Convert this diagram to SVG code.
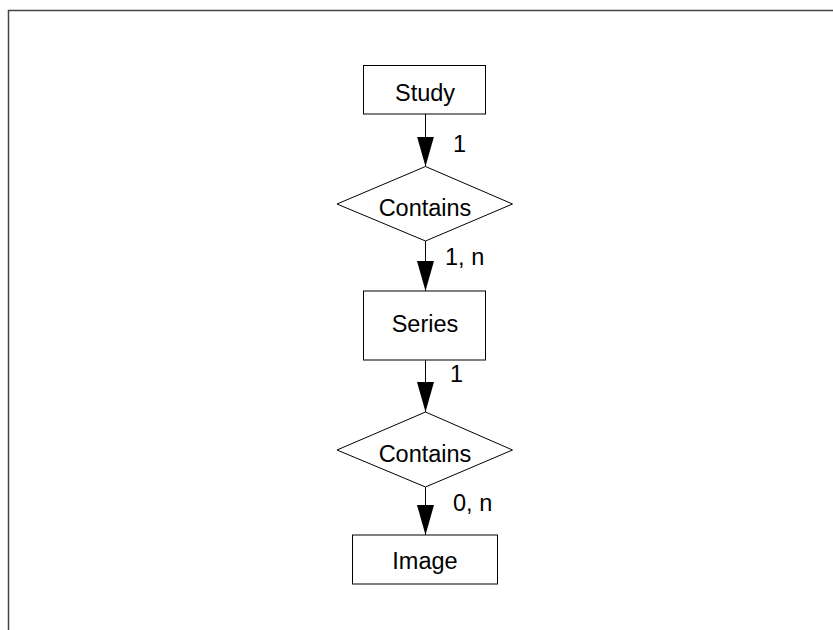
<svg xmlns="http://www.w3.org/2000/svg" width="833" height="630" viewBox="0 0 833 630">
<style>
.box{fill:#fff;stroke:#000;stroke-width:1}
.t{font-family:"Liberation Sans",Arial,sans-serif;font-size:23.5px;fill:#000}
.c{text-anchor:middle}
.ln{stroke:#000;stroke-width:1;fill:none}
</style>
<defs>
<marker id="ah" markerWidth="30" markerHeight="17" refX="30" refY="8.5" orient="auto" markerUnits="userSpaceOnUse" viewBox="0 0 30 17">
<path d="M0,0 L30,8.5 L0,17 Z" fill="#000"/>
</marker>
</defs>
<rect width="833" height="630" fill="#fff"/>
<path d="M8.5,630 V10.5 H833" fill="none" stroke="#444" stroke-width="1.5"/>
<g id="connectors">
<line class="ln" x1="425.5" y1="114" x2="425.5" y2="166.5" marker-end="url(#ah)"/>
<line class="ln" x1="425.5" y1="241" x2="425.5" y2="291" marker-end="url(#ah)"/>
<line class="ln" x1="425.5" y1="360" x2="425.5" y2="412" marker-end="url(#ah)"/>
<line class="ln" x1="425.5" y1="487" x2="425.5" y2="535" marker-end="url(#ah)"/>
<text class="t" x="453" y="152">1</text>
<text class="t" x="445" y="265">1, n</text>
<text class="t" x="450" y="382">1</text>
<text class="t" x="453" y="511">0, n</text>
</g>
<g id="study">
<rect class="box" x="363.5" y="65.5" width="122" height="48.5"/>
<text class="t c" x="425" y="101">Study</text>
</g>
<g id="contains1">
<polygon class="box" points="425.5,166.5 512.5,204 425.5,241 337,204"/>
<text class="t c" x="425" y="216">Contains</text>
</g>
<g id="series">
<rect class="box" x="363.5" y="291" width="122" height="69"/>
<text class="t c" x="425" y="332">Series</text>
</g>
<g id="contains2">
<polygon class="box" points="425.5,412 512.5,450 425.5,487 337,450"/>
<text class="t c" x="425" y="462">Contains</text>
</g>
<g id="image">
<rect class="box" x="352.5" y="535" width="145" height="49"/>
<text class="t c" x="425" y="569">Image</text>
</g>
</svg>
